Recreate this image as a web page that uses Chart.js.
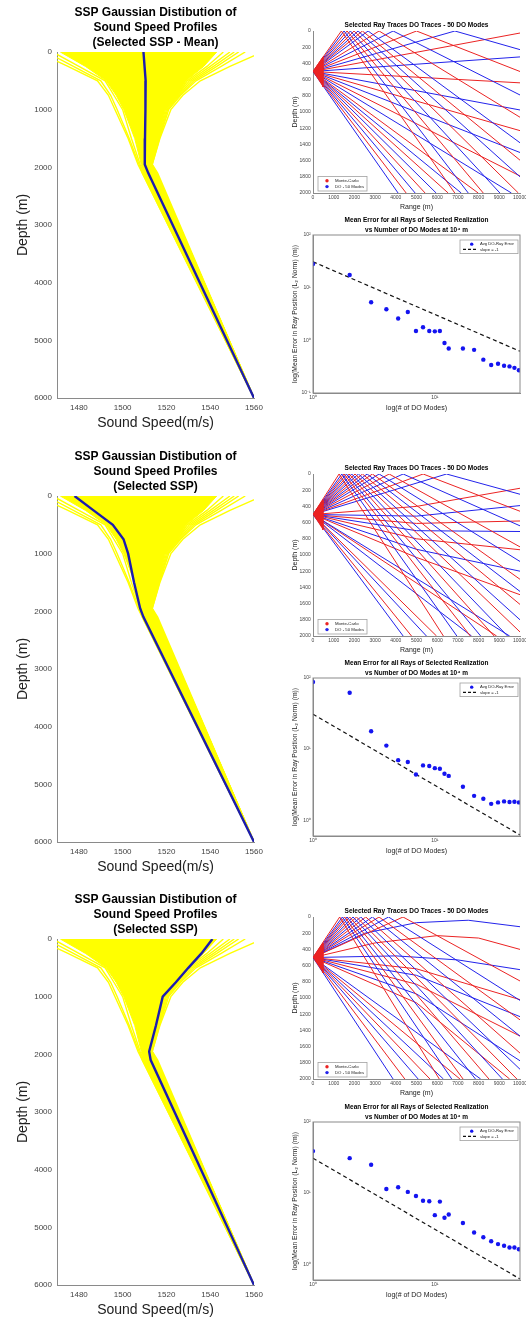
<!DOCTYPE html>
<html>
<head>
<meta charset="utf-8">
<title>SSP ensemble, ray traces and DO error</title>
<script src="https://cdn.jsdelivr.net/npm/chart.js@4.4.1/dist/chart.umd.min.js"></script>
<style>
    html, body { margin: 0; padding: 0; background: #fff; }
    body { width: 526px; height: 1319px; position: relative; overflow: hidden; }
    canvas { position: absolute; }
</style>
</head>
<body>
<canvas id="ssp1" width="270" height="440" style="left:0;top:0"></canvas>
<canvas id="ssp2" width="270" height="440" style="left:0;top:444px"></canvas>
<canvas id="ssp3" width="270" height="440" style="left:0;top:887px"></canvas>
<canvas id="ray1" width="238" height="215" style="left:288px;top:0"></canvas>
<canvas id="err1" width="238" height="210" style="left:288px;top:210px"></canvas>
<canvas id="ray2" width="238" height="215" style="left:288px;top:443px"></canvas>
<canvas id="err2" width="238" height="210" style="left:288px;top:653px"></canvas>
<canvas id="ray3" width="238" height="215" style="left:288px;top:886px"></canvas>
<canvas id="err3" width="238" height="210" style="left:288px;top:1097px"></canvas>
<script>
// ---- sound speed profiles (depth levels in m, speeds in m/s) ----
const sspDepth = [0, 250, 500, 750, 1000, 1500, 1950, 2100, 6000];
const speedTicks = [1480, 1500, 1520, 1540, 1560];
const depthTicks = [0, 1000, 2000, 3000, 4000, 5000, 6000];

// dense middle of the Gaussian ensemble
const sspCoreLeft = [1471.5, 1483, 1492.5, 1497, 1500.5, 1505.5, 1508.5, 1509.5, 1560];
const sspCoreRight = [1543, 1537, 1529, 1525, 1519, 1516, 1513, 1515.5, 1560];

// outer realizations that still show as separate lines
const sspOuter = [
    [1465, 1477.5, 1490, 1494.5, 1497.5, 1503, 1507.5, 1509, 1560],
    [1461, 1475, 1488.5, 1493.5, 1496.5, 1502.5, 1507, 1509, 1560],
    [1468, 1480, 1492, 1496, 1500, 1504, 1508, 1509.5, 1560],
    [1564, 1549, 1535.5, 1527.5, 1522, 1517, 1513.5, 1516, 1560],
    [1556, 1545, 1533.5, 1526.5, 1521, 1516.8, 1513.5, 1515.5, 1560],
    [1553, 1543, 1532.5, 1526, 1520.5, 1516.6, 1513, 1515.5, 1560],
    [1551, 1541.5, 1531.5, 1525.5, 1520, 1516.4, 1513, 1515.5, 1560],
    [1549, 1540, 1530.5, 1525, 1519.5, 1516.2, 1513, 1515.5, 1560],
    [1546, 1538.5, 1529.5, 1525, 1519, 1516, 1513, 1515.5, 1560]
];

const sspSelected1 = [1509.5, 1510, 1510.5, 1510.5, 1510.3, 1510.2, 1510.1, 1511.7, 1560];
const sspSelected2 = [1478, 1486.7, 1495.5, 1500.4, 1502.5, 1505.2, 1508, 1509.5, 1560];
const sspSelected3 = [1541, 1536, 1530, 1524.3, 1518.3, 1515.2, 1512.1, 1512.8, 1560];

// ---- ray traces, each ray is a list of [range (m), depth (m)] ----
const sourceFan = [[0, 500], [480, 320], [480, 690]];

const rays1 = [
    [[0, 500], [1370, 0], [6850, 2000]],
    [[0, 500], [1500, 0], [7500, 2000]],
    [[0, 500], [1645, 0], [8225, 2000]],
    [[0, 500], [1806, 0], [9030, 2000]],
    [[0, 500], [1984, 0], [9920, 2000]],
    [[0, 500], [2177, 0], [10000, 1800]],
    [[0, 500], [2387, 0], [10000, 1595]],
    [[0, 500], [2661, 0], [10000, 1380]],
    [[0, 500], [3194, 0], [10000, 1065]],
    [[0, 500], [3871, 0], [10000, 790]],
    [[0, 500], [5000, 0], [10000, 500]],
    [[0, 500], [6855, 0], [10000, 230]],
    [[0, 500], [10000, 25]],
    [[0, 500], [10000, 320]],
    [[0, 500], [10000, 640]],
    [[0, 500], [10000, 975]],
    [[0, 500], [10000, 1230]],
    [[0, 500], [10000, 1500]],
    [[0, 500], [10000, 1790]],
    [[0, 500], [9585, 2000]],
    [[0, 500], [7980, 2000]],
    [[0, 500], [7160, 2000]],
    [[0, 500], [6530, 2000]],
    [[0, 500], [5950, 2000]],
    [[0, 500], [5415, 2000]],
    [[0, 500], [4935, 2000]],
    [[0, 500], [4500, 2000]],
    [[0, 500], [4110, 2000]]
];

const rays2 = [
    [[0, 500], [1260, 0], [6300, 2000]],
    [[0, 500], [1390, 0], [6950, 2000]],
    [[0, 500], [1500, 0], [7600, 2000]],
    [[0, 500], [1615, 0], [8100, 2000]],
    [[0, 500], [1745, 0], [8750, 2000]],
    [[0, 500], [1870, 0], [9400, 2000]],
    [[0, 500], [2030, 0], [10000, 1950]],
    [[0, 500], [2195, 0], [10000, 1800]],
    [[0, 500], [2390, 0], [10000, 1610]],
    [[0, 500], [2615, 0], [10000, 1450]],
    [[0, 500], [2870, 0], [10000, 1300]],
    [[0, 500], [3195, 0], [10000, 1080]],
    [[0, 500], [3680, 0], [10000, 900]],
    [[0, 500], [4355, 0], [10000, 640]],
    [[0, 500], [5320, 0], [10000, 460]],
    [[0, 500], [6450, 0], [10000, 250]],
    [[0, 500], [5000, 400], [10000, 176]],
    [[0, 500], [5000, 520], [10000, 390]],
    [[0, 500], [5000, 610], [10000, 580]],
    [[0, 500], [5000, 700], [10000, 710]],
    [[0, 500], [5000, 800], [10000, 935]],
    [[0, 500], [5000, 930], [10000, 1200]],
    [[0, 500], [5000, 1030], [10000, 1490]],
    [[0, 500], [9500, 2000]],
    [[0, 500], [8870, 2000]],
    [[0, 500], [7660, 2000]],
    [[0, 500], [5968, 2000]],
    [[0, 500], [5480, 2000]],
    [[0, 500], [4760, 2000]],
    [[0, 500], [4355, 2000]]
];

const rays3 = [
    [[0, 500], [1290, 0], [6100, 2000]],
    [[0, 500], [1420, 0], [6700, 2000]],
    [[0, 500], [1530, 0], [7250, 2000]],
    [[0, 500], [1645, 0], [7850, 2000]],
    [[0, 500], [1775, 0], [8500, 2000]],
    [[0, 500], [1935, 0], [9150, 2000]],
    [[0, 500], [2100, 0], [9850, 2000]],
    [[0, 500], [2310, 0], [10000, 1880]],
    [[0, 500], [2550, 0], [10000, 1680]],
    [[0, 500], [2870, 0], [10000, 1470]],
    [[0, 500], [3190, 0], [10000, 1270]],
    [[0, 500], [3650, 0], [10000, 1030]],
    [[0, 500], [4350, 0], [10000, 790]],
    [[0, 500], [2500, 200], [5000, 70], [7500, 40], [10000, 120]],
    [[0, 500], [3000, 320], [6000, 230], [8000, 260], [10000, 400]],
    [[0, 500], [4000, 480], [7000, 530], [10000, 650]],
    [[0, 500], [5000, 640], [10000, 1020]],
    [[0, 500], [5000, 720], [10000, 1230]],
    [[0, 500], [5000, 830], [10000, 1470]],
    [[0, 500], [5000, 950], [10000, 1775]],
    [[0, 500], [5000, 1060], [9500, 2000]],
    [[0, 500], [8100, 2000]],
    [[0, 500], [7100, 2000]],
    [[0, 500], [6300, 2000]],
    [[0, 500], [5650, 2000]],
    [[0, 500], [5080, 2000]],
    [[0, 500], [4435, 2000]],
    [[0, 500], [3870, 2000]]
];

// ---- mean DO error vs number of modes ----
const modes = [1, 2, 3, 4, 5, 6, 7, 8, 9, 10, 11, 12, 13, 17, 21, 25, 29, 33, 37, 41, 45, 49];
const err1 = [28.1, 17.4, 5.3, 3.9, 2.6, 3.45, 1.5, 1.77, 1.5, 1.48, 1.5, 0.89, 0.7, 0.7, 0.66, 0.43, 0.34, 0.36, 0.33, 0.32, 0.3, 0.27];
const err2 = [88, 62, 17.8, 11.2, 7.0, 6.6, 4.4, 5.9, 5.8, 5.4, 5.3, 4.5, 4.2, 2.95, 2.2, 2.0, 1.7, 1.78, 1.84, 1.8, 1.82, 1.78];
const err3 = [39, 31, 25, 11.4, 12.1, 10.4, 9.1, 7.8, 7.7, 4.9, 7.6, 4.5, 5.0, 3.8, 2.8, 2.4, 2.1, 1.92, 1.82, 1.72, 1.72, 1.62];
const slopeModes = [1, 50];
const slopeErr = [31, 0.62];
const modeTicks = [1, 10];

const FONT = "'Liberation Sans', Arial, Helvetica, sans-serif";
const AXIS_GREY = '#8a8a8a';
const YELLOW = '#ffff00';
const RED = 'rgb(235, 35, 35)';
const BLUE = 'rgb(35, 35, 235)';

Chart.defaults.animation = false;
Chart.defaults.responsive = false;
Chart.defaults.font.family = FONT;
Chart.defaults.color = '#404040';
Chart.defaults.plugins.legend.display = false;
Chart.defaults.plugins.tooltip.enabled = false;

const SUP = { '-': '\u207B', '0': '\u2070', '1': '\u00B9', '2': '\u00B2', '3': '\u00B3', '4': '\u2074' };

function powerLabel(v) {
    const e = String(Math.round(Math.log10(v)));
    return '10' + e.split('').map(c => SUP[c]).join('');
}

function plainLabel(v) {
    return String(v);
}

function pts(xs, ys) {
    return xs.map((x, i) => ({ x: x, y: ys[i] }));
}

function pairs(list) {
    return list.map(p => ({ x: p[0], y: p[1] }));
}

// pin the axis box size so every chart area lands where the figure has it
function fixedScale(size, vertical) {
    return function (scale) {
        if (vertical) {
            scale.width = size;
            scale.paddingTop = 0;
            scale.paddingBottom = 0;
        } else {
            scale.height = size;
            scale.paddingLeft = 0;
            scale.paddingRight = 0;
        }
    };
}

function setTicks(values) {
    return function (scale) {
        scale.ticks = values.map(v => ({ value: v }));
    };
}

const noGrid = { display: false, drawTicks: false };

function framePlugin() {
    return {
        id: 'frame',
        afterDatasetsDraw(chart) {
            const a = chart.chartArea;
            const ctx = chart.ctx;
            ctx.save();
            ctx.strokeStyle = AXIS_GREY;
            ctx.lineWidth = 1;
            ctx.strokeRect(a.left, a.top, a.right - a.left, a.bottom - a.top);
            ctx.restore();
        }
    };
}

function legendPlugin(spec) {
    return {
        id: 'boxLegend',
        afterDraw(chart) {
            const a = chart.chartArea;
            const ctx = chart.ctx;
            const h = spec.items.length * spec.row + 3;
            const x = spec.corner === 'ne' ? a.right - spec.width - spec.mx : a.left + spec.mx;
            const y = spec.corner === 'ne' ? a.top + spec.my : a.bottom - h - spec.my;
            ctx.save();
            ctx.fillStyle = '#fff';
            ctx.fillRect(x, y, spec.width, h);
            ctx.strokeStyle = '#a0a0a0';
            ctx.lineWidth = 0.8;
            ctx.strokeRect(x, y, spec.width, h);
            ctx.font = spec.font + 'px ' + FONT;
            ctx.textBaseline = 'middle';
            spec.items.forEach((it, i) => {
                const cy = y + 1.5 + spec.row * (i + 0.5);
                if (it.dash) {
                    ctx.strokeStyle = it.color;
                    ctx.lineWidth = 1.2;
                    ctx.setLineDash([3, 2]);
                    ctx.beginPath();
                    ctx.moveTo(x + 3, cy);
                    ctx.lineTo(x + 17, cy);
                    ctx.stroke();
                    ctx.setLineDash([]);
                } else {
                    ctx.fillStyle = it.color;
                    ctx.beginPath();
                    ctx.arc(x + spec.markX, cy, 1.7, 0, Math.PI * 2);
                    ctx.fill();
                }
                ctx.fillStyle = '#222';
                ctx.fillText(it.text, x + spec.textX, cy);
            });
            ctx.restore();
        }
    };
}

/**
 * Sound speed ensemble with one selected profile in blue
 * (Chart.js paints dataset 0 last, so the blue profile goes first)
 */
function sspChart(id, selected, subtitle) {
    const core = pts(sspCoreLeft, sspDepth)
        .concat(pts(sspCoreRight.slice().reverse(), sspDepth.slice().reverse()));
    const datasets = [{
        data: pts(selected, sspDepth), showLine: true, borderColor: '#1c1cb0', borderWidth: 2.4, pointRadius: 0
    }];
    sspOuter.forEach(p => datasets.push({
        data: pts(p, sspDepth), showLine: true, borderColor: YELLOW, borderWidth: 1.4, pointRadius: 0
    }));
    datasets.push({
        data: core, showLine: true, fill: 'shape', backgroundColor: YELLOW,
        borderColor: YELLOW, borderWidth: 1, pointRadius: 0
    });

    return new Chart(document.getElementById(id), {
        type: 'scatter',
        data: { datasets: datasets },
        options: {
            layout: { padding: { left: 0, right: 16, top: 0, bottom: 0 } },
            plugins: {
                title: {
                    display: true,
                    text: ['SSP Gaussian Distibution of', 'Sound Speed Profiles', subtitle],
                    color: '#000',
                    font: { size: 12, weight: 'bold', lineHeight: 1.25 },
                    padding: { top: 5.5, bottom: 1.5 },
                    fullSize: false
                }
            },
            scales: {
                x: {
                    type: 'linear', min: 1470, max: 1560,
                    afterBuildTicks: setTicks(speedTicks),
                    afterFit: fixedScale(42, false),
                    grid: noGrid,
                    border: { color: AXIS_GREY },
                    ticks: { font: { size: 8 }, padding: 5, color: '#444', maxRotation: 0, callback: plainLabel },
                    title: {
                        display: true, text: 'Sound Speed(m/s)', color: '#222',
                        font: { size: 14 }, padding: { top: 0, bottom: 8.6 }
                    }
                },
                y: {
                    type: 'linear', reverse: true, min: 0, max: 6000,
                    afterBuildTicks: setTicks(depthTicks),
                    afterFit: fixedScale(57, true),
                    grid: noGrid,
                    border: { color: AXIS_GREY },
                    ticks: { font: { size: 8 }, padding: 5, color: '#444', callback: plainLabel },
                    title: {
                        display: true, text: 'Depth (m)', color: '#222',
                        font: { size: 14 }, padding: { top: 14.6, bottom: 0 }
                    }
                }
            }
        }
    });
}

/**
 * Monte-Carlo vs DO ray traces
 */
function rayChart(id, rays) {
    const datasets = [{
        data: pairs(sourceFan), showLine: true, fill: 'shape', backgroundColor: RED,
        borderColor: RED, borderWidth: 1, pointRadius: 0
    }];
    rays.forEach((r, i) => datasets.push({
        data: pairs(r), showLine: true, borderColor: i % 2 ? BLUE : RED, borderWidth: 1, pointRadius: 0
    }));

    return new Chart(document.getElementById(id), {
        type: 'scatter',
        data: { datasets: datasets },
        options: {
            layout: { padding: { left: 0, right: 6, top: 0, bottom: 0 } },
            plugins: {
                title: {
                    display: true,
                    text: 'Selected Ray Traces DO Traces - 50 DO Modes',
                    color: '#000',
                    font: { size: 6.5, weight: 'bold', lineHeight: 1.2 },
                    padding: { top: 21.1, bottom: 2.1 },
                    fullSize: false
                }
            },
            scales: {
                x: {
                    type: 'linear', min: 0, max: 10000,
                    afterFit: fixedScale(22, false),
                    grid: noGrid,
                    border: { color: AXIS_GREY },
                    ticks: { stepSize: 1000, font: { size: 5 }, padding: 2, color: '#444', autoSkip: false, maxRotation: 0, callback: plainLabel },
                    title: {
                        display: true, text: 'Range (m)', color: '#222',
                        font: { size: 7 }, padding: { top: 0, bottom: 3.8 }
                    }
                },
                y: {
                    type: 'linear', reverse: true, min: 0, max: 2000,
                    afterFit: fixedScale(25, true),
                    grid: noGrid,
                    border: { color: AXIS_GREY },
                    ticks: { stepSize: 200, font: { size: 5 }, padding: 2.3, color: '#444', autoSkip: false, callback: plainLabel },
                    title: {
                        display: true, text: 'Depth (m)', color: '#222',
                        font: { size: 7 }, padding: { top: 3.3, bottom: 0 }
                    }
                }
            }
        },
        plugins: [legendPlugin({
            corner: 'sw', mx: 5, my: 2, width: 49, row: 5.8, font: 4.3, markX: 9, textX: 17,
            items: [{ text: 'Monte-Carlo', color: RED }, { text: 'DO - 50 Modes', color: BLUE }]
        })]
    });
}

/**
 * Mean ray position error vs number of DO modes (log-log)
 */
function errChart(id, errs, yMin, yTicks) {
    return new Chart(document.getElementById(id), {
        type: 'scatter',
        data: {
            datasets: [
                {
                    data: pts(modes, errs), backgroundColor: '#1414f0', borderColor: '#1414f0',
                    pointRadius: 2.2, borderWidth: 0
                },
                {
                    data: pts(slopeModes, slopeErr), showLine: true, borderColor: '#111',
                    borderDash: [4, 3], borderWidth: 1.2, pointRadius: 0
                }
            ]
        },
        options: {
            layout: { padding: { left: 0, right: 6, top: 0, bottom: 0 } },
            plugins: {
                title: {
                    display: true,
                    text: ['Mean Error for all Rays of Selected Realization', 'vs Number of DO Modes at 10\u2074 m'],
                    color: '#000',
                    font: { size: 6.5, weight: 'bold', lineHeight: 1.5 },
                    padding: { top: 5.1, bottom: 0.4 },
                    fullSize: false
                }
            },
            scales: {
                x: {
                    type: 'logarithmic', min: 1, max: 50,
                    afterBuildTicks: setTicks(modeTicks),
                    afterFit: fixedScale(27, false),
                    grid: noGrid,
                    border: { color: AXIS_GREY },
                    ticks: { font: { size: 5 }, padding: 2, color: '#444', maxRotation: 0, callback: v => powerLabel(v) },
                    title: {
                        display: true, text: 'log(# of DO Modes)', color: '#222',
                        font: { size: 7 }, padding: { top: 0, bottom: 7.8 }
                    }
                },
                y: {
                    type: 'logarithmic', min: yMin, max: 100,
                    afterBuildTicks: setTicks(yTicks),
                    afterFit: fixedScale(25, true),
                    grid: noGrid,
                    border: { color: AXIS_GREY },
                    ticks: { font: { size: 5 }, padding: 2.3, color: '#444', callback: v => powerLabel(v) },
                    title: {
                        display: true, text: 'log(Mean Error in Ray Position (L\u2082 Norm) (m))', color: '#222',
                        font: { size: 6.8 }, padding: { top: 3.3, bottom: 0 }
                    }
                }
            }
        },
        plugins: [framePlugin(), legendPlugin({
            corner: 'ne', mx: 2, my: 5, width: 58, row: 5.3, font: 4.2, markX: 11.7, textX: 20,
            items: [{ text: 'Avg DO-Ray Error', color: '#1414f0' }, { text: 'slope = -1', color: '#111', dash: true }]
        })]
    });
}

sspChart('ssp1', sspSelected1, '(Selected SSP - Mean)');
sspChart('ssp2', sspSelected2, '(Selected SSP)');
sspChart('ssp3', sspSelected3, '(Selected SSP)');

rayChart('ray1', rays1);
rayChart('ray2', rays2);
rayChart('ray3', rays3);

errChart('err1', err1, 0.1, [0.1, 1, 10, 100]);
errChart('err2', err2, 0.62, [1, 10, 100]);
errChart('err3', err3, 0.62, [1, 10, 100]);
</script>
</body>
</html>
